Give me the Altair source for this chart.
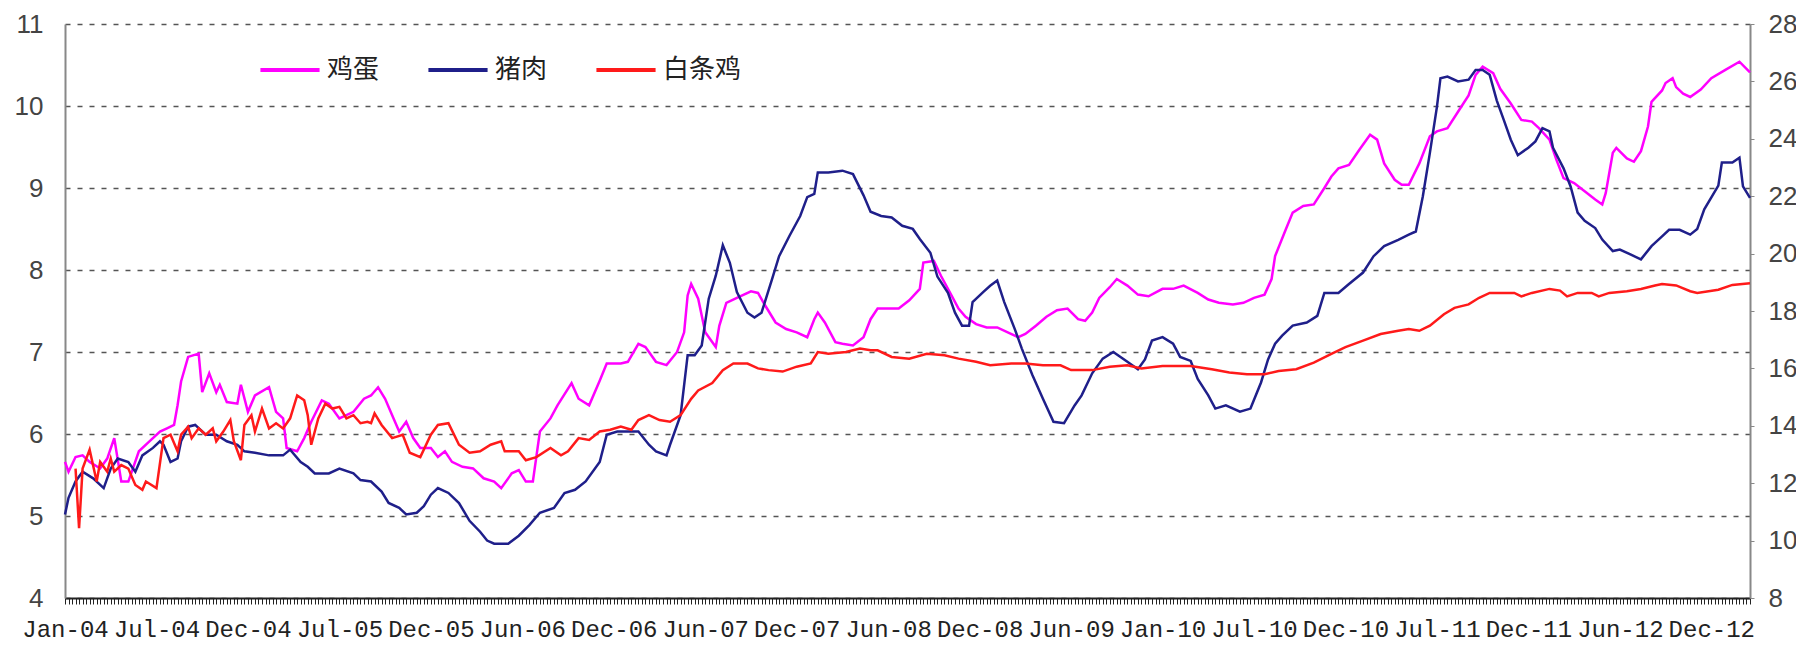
import json
import altair as alt
import pandas as pd

# ---- data (week index since Jan-04) ----
tick_labels = ["Jan-04", "Jul-04", "Dec-04", "Jul-05", "Dec-05", "Jun-06", "Dec-06",
               "Jun-07", "Dec-07", "Jun-08", "Dec-08", "Jun-09", "Jan-10", "Jul-10",
               "Dec-10", "Jul-11", "Dec-11", "Jun-12", "Dec-12"]
label_every = 26
n_weeks = 480

series_names = ["鸡蛋", "猪肉", "白条鸡"]
series_colors = ["#ff00ff", "#1f1f8a", "#ff1a1a"]

egg_weeks = [0, 1, 3, 5, 7, 10, 12, 14, 16, 18, 21, 24, 27, 29, 31, 32, 33, 35, 38, 39,
             41, 43, 44, 46, 49, 50, 52, 54, 58, 60, 62, 63, 66, 68, 70, 73, 75, 78, 82, 85,
             87, 89, 91, 93, 95, 97, 99, 101, 104, 106, 108, 110, 113, 116, 119, 122, 124, 127, 129, 131,
             133, 135, 138, 140, 144, 146, 149, 152, 154, 158, 160, 163, 165, 168, 171, 174, 176, 177, 178, 180,
             182, 185, 186, 188, 191, 195, 197, 199, 202, 205, 208, 211, 213, 214, 216, 219, 221, 224, 227, 229,
             231, 234, 237, 240, 243, 244, 247, 249, 252, 254, 256, 259, 262, 265, 268, 271, 273, 276, 279, 282,
             285, 288, 290, 292, 294, 297, 299, 302, 305, 308, 312, 315, 318, 322, 325, 328, 332, 335, 338, 341,
             343, 344, 347, 349, 352, 355, 358, 360, 362, 365, 368, 371, 373, 375, 378, 380, 382, 385, 388, 390,
             393, 396, 399, 401, 403, 406, 408, 411, 414, 417, 419, 422, 424, 426, 429, 432, 435, 437, 438, 440,
             441, 444, 446, 448, 450, 451, 454, 455, 457, 458, 460, 462, 465, 468, 472, 476, 479]
egg_price = [5.66, 5.54, 5.72, 5.74, 5.66, 5.58, 5.70, 5.95, 5.42, 5.42, 5.79, 5.91, 6.03, 6.07, 6.11, 6.35, 6.64, 6.94, 6.98, 6.51,
             6.74, 6.51, 6.60, 6.39, 6.37, 6.60, 6.27, 6.47, 6.57, 6.27, 6.19, 5.83, 5.79, 5.95, 6.15, 6.41, 6.37, 6.19, 6.27, 6.43,
             6.47, 6.57, 6.43, 6.23, 6.03, 6.15, 5.95, 5.83, 5.83, 5.72, 5.79, 5.66, 5.60, 5.58, 5.46, 5.42, 5.34, 5.52, 5.56, 5.42,
             5.42, 6.03, 6.19, 6.35, 6.62, 6.43, 6.35, 6.65, 6.86, 6.86, 6.88, 7.10, 7.06, 6.88, 6.84, 7.00, 7.24, 7.69, 7.83, 7.65,
             7.24, 7.06, 7.32, 7.60, 7.66, 7.74, 7.72, 7.57, 7.36, 7.28, 7.24, 7.18, 7.40, 7.48, 7.36, 7.12, 7.10, 7.08, 7.18, 7.40,
             7.53, 7.53, 7.53, 7.63, 7.77, 8.09, 8.11, 7.93, 7.69, 7.53, 7.43, 7.34, 7.30, 7.30, 7.24, 7.18, 7.22, 7.32, 7.43, 7.51,
             7.53, 7.40, 7.38, 7.48, 7.66, 7.79, 7.89, 7.81, 7.70, 7.68, 7.77, 7.77, 7.81, 7.72, 7.64, 7.60, 7.58, 7.60, 7.66, 7.70,
             7.89, 8.17, 8.49, 8.70, 8.78, 8.80, 9.00, 9.14, 9.24, 9.28, 9.47, 9.65, 9.59, 9.30, 9.10, 9.04, 9.04, 9.30, 9.63, 9.69,
             9.73, 9.93, 10.13, 10.38, 10.48, 10.40, 10.21, 10.03, 9.83, 9.81, 9.73, 9.59, 9.34, 9.12, 9.06, 8.96, 8.86, 8.80, 8.94, 9.43,
             9.49, 9.36, 9.32, 9.45, 9.75, 10.05, 10.19, 10.28, 10.34, 10.23, 10.15, 10.11, 10.20, 10.34, 10.44, 10.54, 10.41]

pork_weeks = [0, 1, 3, 5, 8, 11, 13, 15, 18, 20, 22, 25, 27, 28, 30, 32, 33, 35, 37, 40,
              43, 46, 49, 51, 54, 58, 62, 64, 67, 69, 71, 75, 78, 82, 84, 87, 90, 92, 95, 97,
              100, 102, 104, 106, 109, 112, 115, 118, 120, 122, 126, 129, 132, 135, 139, 142, 145, 148, 152, 154,
              157, 160, 163, 166, 168, 171, 172, 175, 177, 179, 181, 183, 185, 187, 189, 191, 194, 196, 198, 201,
              203, 206, 209, 211, 213, 214, 217, 221, 224, 227, 229, 232, 235, 238, 241, 243, 246, 248, 251, 253,
              255, 257, 258, 261, 263, 265, 267, 270, 272, 275, 278, 281, 284, 287, 289, 292, 295, 298, 302, 305,
              307, 309, 312, 315, 317, 320, 322, 325, 327, 330, 334, 337, 340, 342, 344, 346, 349, 353, 356, 358,
              362, 365, 369, 372, 375, 379, 382, 384, 386, 388, 390, 391, 393, 396, 399, 401, 403, 405, 407, 409,
              411, 413, 416, 418, 420, 422, 423, 426, 428, 430, 432, 435, 437, 440, 442, 445, 448, 451, 454, 456,
              459, 462, 464, 466, 470, 471, 474, 476, 477, 479]
pork_price = [10.91, 11.49, 12.06, 12.40, 12.17, 11.83, 12.51, 12.86, 12.74, 12.40, 12.97, 13.23, 13.46, 13.34, 12.74, 12.86, 13.46, 13.97, 14.03, 13.69,
              13.69, 13.46, 13.34, 13.11, 13.06, 12.97, 12.97, 13.17, 12.74, 12.57, 12.34, 12.34, 12.51, 12.34, 12.11, 12.06, 11.71, 11.31, 11.14, 10.91,
              10.97, 11.20, 11.60, 11.83, 11.66, 11.31, 10.69, 10.31, 10.00, 9.89, 9.89, 10.17, 10.54, 10.97, 11.14, 11.66, 11.77, 12.06, 12.74, 13.69,
              13.80, 13.80, 13.80, 13.34, 13.11, 12.97, 13.34, 14.37, 16.46, 16.46, 16.80, 18.43, 19.23, 20.29, 19.68, 18.66, 17.94, 17.77, 17.94, 19.11,
              19.91, 20.63, 21.31, 21.97, 22.08, 22.83, 22.83, 22.89, 22.77, 22.03, 21.46, 21.31, 21.26, 20.97, 20.86, 20.51, 20.03, 19.20, 18.63, 17.94,
              17.49, 17.49, 18.31, 18.66, 18.88, 19.06, 18.31, 17.37, 16.69, 15.77, 14.94, 14.14, 14.09, 14.71, 15.06, 15.83, 16.34, 16.57, 16.23, 15.97,
              16.31, 16.97, 17.09, 16.86, 16.40, 16.26, 15.63, 15.06, 14.60, 14.71, 14.49, 14.60, 15.51, 16.31, 16.86, 17.14, 17.49, 17.60, 17.83, 18.63,
              18.63, 18.94, 19.34, 19.91, 20.26, 20.48, 20.66, 20.77, 22.00, 23.51, 25.11, 26.11, 26.17, 26.00, 26.06, 26.40, 26.40, 26.23, 25.34, 24.66,
              23.97, 23.43, 23.69, 23.91, 24.37, 24.26, 23.69, 22.97, 22.34, 21.43, 21.14, 20.89, 20.49, 20.09, 20.14, 19.97, 19.80, 20.26, 20.60, 20.83,
              20.83, 20.66, 20.86, 21.54, 22.37, 23.17, 23.17, 23.34, 22.34, 21.94]

chicken_weeks = [3, 4, 5, 7, 9, 10, 12, 13, 14, 16, 18, 20, 22, 23, 26, 28, 30, 32, 33, 35,
                 36, 38, 40, 42, 43, 45, 47, 48, 50, 51, 53, 54, 56, 58, 60, 62, 64, 66, 68, 69,
                 70, 72, 74, 76, 78, 80, 82, 84, 86, 87, 88, 90, 93, 96, 98, 101, 104, 106, 109, 112,
                 115, 118, 121, 124, 125, 129, 131, 134, 138, 141, 143, 146, 149, 152, 155, 158, 161, 163, 166, 169,
                 172, 175, 178, 180, 184, 187, 190, 194, 197, 200, 204, 208, 212, 214, 217, 222, 226, 229, 231, 235,
                 240, 245, 250, 254, 259, 263, 269, 273, 278, 283, 286, 292, 297, 302, 306, 312, 320, 326, 331, 336,
                 341, 345, 350, 355, 360, 364, 369, 374, 379, 382, 385, 388, 392, 395, 399, 402, 405, 408, 412, 414,
                 417, 422, 425, 427, 430, 434, 436, 439, 444, 448, 452, 454, 458, 462, 464, 470, 474, 479]
chicken_price = [12.51, 10.43, 12.51, 13.17, 12.06, 12.74, 12.40, 12.86, 12.40, 12.63, 12.51, 11.94, 11.77, 12.06, 11.83, 13.57, 13.69, 13.11, 13.69, 13.97,
                 13.57, 13.91, 13.69, 13.91, 13.46, 13.80, 14.20, 13.46, 12.80, 14.03, 14.37, 13.80, 14.60, 13.91, 14.09, 13.91, 14.26, 15.06, 14.89, 14.37,
                 13.34, 14.26, 14.77, 14.60, 14.66, 14.26, 14.37, 14.09, 14.14, 14.09, 14.43, 14.03, 13.57, 13.69, 13.06, 12.91, 13.69, 14.03, 14.09, 13.34,
                 13.06, 13.11, 13.34, 13.46, 13.11, 13.11, 12.80, 12.91, 13.23, 12.97, 13.11, 13.57, 13.51, 13.80, 13.86, 13.97, 13.86, 14.20, 14.37, 14.20,
                 14.14, 14.37, 14.94, 15.23, 15.49, 15.94, 16.17, 16.17, 16.00, 15.94, 15.89, 16.06, 16.17, 16.57, 16.51, 16.57, 16.69, 16.63, 16.63, 16.40,
                 16.34, 16.51, 16.46, 16.34, 16.23, 16.11, 16.17, 16.17, 16.11, 16.11, 15.94, 15.94, 16.06, 16.11, 16.00, 16.08, 16.08, 15.97, 15.86, 15.80,
                 15.80, 15.91, 15.97, 16.20, 16.51, 16.74, 16.97, 17.20, 17.31, 17.37, 17.31, 17.49, 17.89, 18.11, 18.23, 18.46, 18.63, 18.63, 18.63, 18.51,
                 18.63, 18.77, 18.71, 18.51, 18.63, 18.63, 18.51, 18.63, 18.69, 18.77, 18.89, 18.94, 18.89, 18.69, 18.63, 18.74, 18.91, 18.97]

left_ticks = [4, 5, 6, 7, 8, 9, 10, 11]
right_ticks = [8, 10, 12, 14, 16, 18, 20, 22, 24, 26, 28]

# ---- tables ----
egg_df = pd.DataFrame({"week": egg_weeks, "price": egg_price, "item": series_names[0]})
meat_df = pd.concat([
    pd.DataFrame({"week": pork_weeks, "price": pork_price, "item": series_names[1]}),
    pd.DataFrame({"week": chicken_weeks, "price": chicken_price, "item": series_names[2]}),
], ignore_index=True)

label_expr = (f"datum.value % {label_every} === 0 ? "
              f"{json.dumps(tick_labels)}[datum.value / {label_every}] : ''")

x_enc = alt.X(
    "week:Q",
    scale=alt.Scale(domain=[0, n_weeks - 1], nice=False, zero=False),
    axis=alt.Axis(values=list(range(n_weeks)), labelExpr=label_expr, labelOverlap=False,
                  labelFlush=False, labelBound=False, tickSize=6, tickColor="#222",
                  tickWidth=1, domainColor="#222", domainWidth=2, labelFont="Liberation Mono",
                  labelFontSize=24, labelColor="#222", labelPadding=13, grid=False, title=None),
)

color_enc = alt.Color(
    "item:N",
    scale=alt.Scale(domain=series_names, range=series_colors),
    legend=alt.Legend(orient="none", legendX=193, legendY=14, direction="horizontal",
                      title=None, symbolType="stroke", symbolSize=3500, symbolStrokeWidth=4,
                      labelFont="Noto Sans CJK SC", labelFontSize=26, labelColor="#222",
                      labelOffset=5, columnPadding=40, padding=0),
)

egg_layer = alt.Chart(egg_df).mark_line(strokeWidth=2.5).encode(
    x=x_enc,
    y=alt.Y("price:Q",
            scale=alt.Scale(domain=[4, 11], nice=False, zero=False),
            axis=alt.Axis(values=left_ticks, grid=True, gridDash=[5, 7], gridColor="#555",
                          gridWidth=1.5, ticks=False, domainColor="#888", domainWidth=2,
                          labelFont="Liberation Sans", labelFontSize=26, labelColor="#444",
                          labelPadding=22, title=None)),
    color=color_enc,
)

meat_layer = alt.Chart(meat_df).mark_line(strokeWidth=2.5).encode(
    x=x_enc,
    y=alt.Y("price:Q",
            scale=alt.Scale(domain=[8, 28], nice=False, zero=False),
            axis=alt.Axis(orient="right", values=right_ticks, grid=False, tickSize=4,
                          tickColor="#888", domainColor="#888", domainWidth=2,
                          labelFont="Liberation Sans", labelFontSize=26, labelColor="#444",
                          labelPadding=14, title=None)),
    color=color_enc,
    detail="item:N",
)

chart = alt.layer(egg_layer, meat_layer).resolve_scale(y="independent").properties(
    width=1685, height=574,
    padding={"left": 57, "top": 16, "right": 46, "bottom": 45},
    autosize=alt.AutoSizeParams(type="none"),
    background="white",
).configure_view(stroke=None)

chart.save("out.html", embed_options={"renderer": "svg", "actions": False})
